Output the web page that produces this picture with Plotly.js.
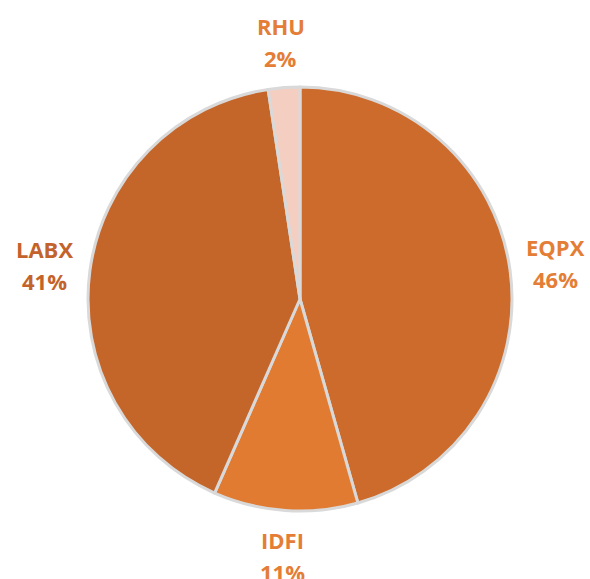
<!DOCTYPE html>
<html>
<head>
<meta charset="utf-8">
<script src="https://cdn.plot.ly/plotly-3.0.1.min.js"></script>
<style>html,body{margin:0;padding:0;background:#fff;}#chart{width:590px;height:579px;}</style>
</head>
<body>
<div id="chart"></div>
<script>
const categories = ["EQPX", "IDFI", "LABX", "RHU"];
const values = [45.6, 11.0, 41.0, 2.4];
const sliceColors = ["#cc6b2b", "#e17b32", "#c4652a", "#f5cec2"];
const labelColors = ["#e47d35", "#e47d35", "#c3632b", "#e47d35"];

const total = values.reduce((a, b) => a + b, 0);
const labelR = 258 / 424;
const annotations = [];
let cum = 0;
values.forEach((v, i) => {
  const mid = (cum + v / 2) / total * 2 * Math.PI;
  cum += v;
  const x = 0.5 + labelR * Math.sin(mid);
  const y = 0.5 + labelR * Math.cos(mid);
  const pct = Math.round(v / total * 100) + "%";
  const font = {family: "Open Sans, sans-serif", size: 22, color: labelColors[i], weight: 700};
  annotations.push({xref: "paper", yref: "paper", x: x, y: y, text: "<b>" + categories[i] + "</b>",
    showarrow: false, xanchor: "center", yanchor: "middle", yshift: 16, font: font});
  annotations.push({xref: "paper", yref: "paper", x: x, y: y, text: "<b>" + pct + "</b>",
    showarrow: false, xanchor: "center", yanchor: "middle", yshift: -16, font: font});
});

const data = [{
  type: "pie",
  labels: categories,
  values: values,
  sort: false,
  direction: "clockwise",
  rotation: 0,
  textinfo: "none",
  hoverinfo: "label+percent",
  marker: {colors: sliceColors, line: {color: "#d9d9d9", width: 3}},
  showlegend: false
}];

const layout = {
  width: 590, height: 579,
  margin: {l: 88, r: 78, t: 87, b: 68},
  paper_bgcolor: "#ffffff",
  plot_bgcolor: "#ffffff",
  showlegend: false,
  annotations: annotations
};

Plotly.newPlot("chart", data, layout, {displayModeBar: false, staticPlot: true});
</script>
</body>
</html>
